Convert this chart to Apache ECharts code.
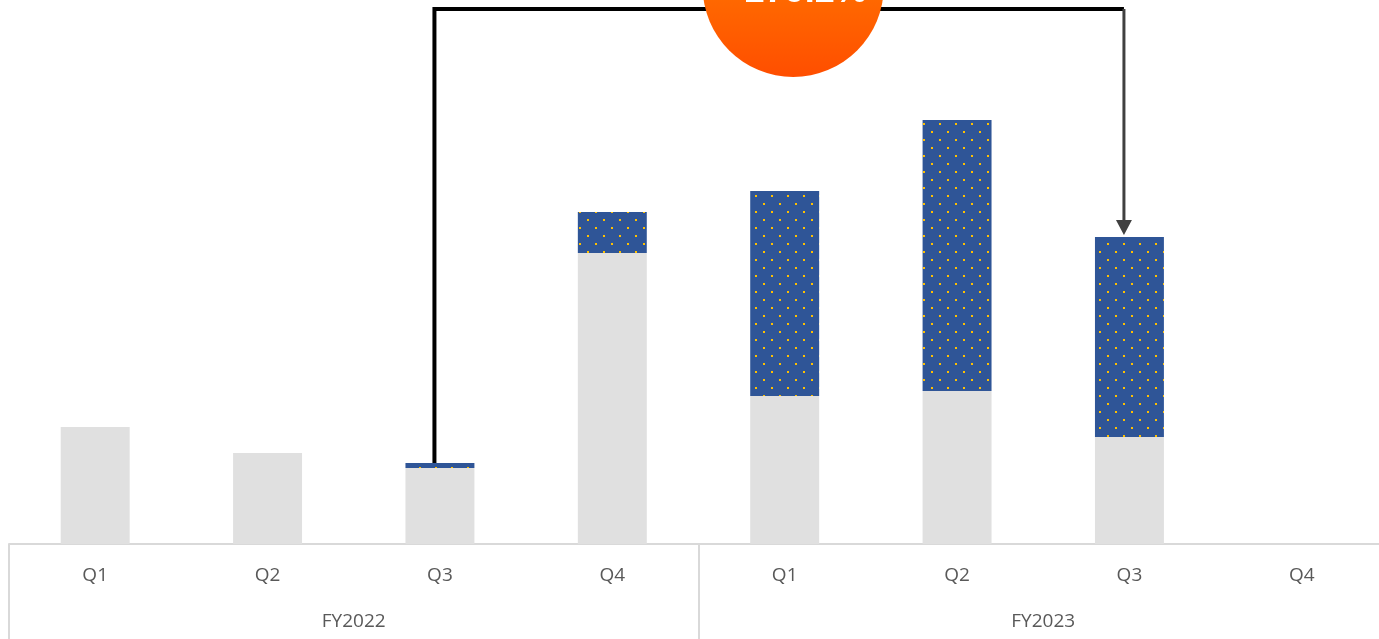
<!DOCTYPE html>
<html>
<head>
<meta charset="utf-8">
<script src="https://cdn.jsdelivr.net/npm/echarts@6/dist/echarts.min.js"></script>
<style>
html,body{margin:0;padding:0;background:#fff;overflow:hidden;width:1379px;height:639px;}
#chart{width:1388px;height:639px;}
</style>
</head>
<body>
<div id="chart"></div>
<script>
// ---- data ----
const quarters = ['Q1','Q2','Q3','Q4','Q1','Q2','Q3','Q4'];
const fiscalYears = ['FY2022','FY2023'];
const baseValues = [117, 91, 76, 291, 148, 153, 107, null];
const extraValues = [null, null, 5, 41, 205, 271, 200, null];
const growthLabel = '+279.2%';
const fromIndex = 2;   // Q3 FY2022
const toIndex = 6;     // Q3 FY2023

// dotted pattern for the upper segment
const pat = document.createElement('canvas');
pat.width = 16; pat.height = 16;
const pc = pat.getContext('2d');
pc.fillStyle = '#2F5597';
pc.fillRect(0,0,16,16);
pc.fillStyle = '#FFC000';
pc.fillRect(3,3,2,2);
pc.fillRect(11,11,2,2);

const chart = echarts.init(document.getElementById('chart'), null, {renderer:'canvas'});
const axisGray = '#D9D9D9';
const option = {
  animation: false,
  grid: {left: 9, right: 0, top: 0, bottom: 95, containLabel: false},
  xAxis: [
    {
      type: 'category', data: quarters, position: 'bottom',
      axisLine: {show: true, lineStyle: {color: axisGray, width: 2}},
      axisTick: {show: false},
      axisLabel: {color: '#595959', fontSize: 19, fontFamily: 'Open Sans', margin: 22}
    },
    {
      type: 'category', data: fiscalYears, position: 'bottom',
      axisLine: {show: false},
      axisTick: {show: true, length: 96, lineStyle: {color: axisGray, width: 2}},
      axisLabel: {color: '#595959', fontSize: 19, fontFamily: 'Open Sans', margin: 68}
    }
  ],
  yAxis: {type: 'value', min: 0, max: 544, show: false, splitLine: {show: false}},
  series: [
    {
      type: 'bar', stack: 'total', data: baseValues, barWidth: '40%', xAxisIndex: 0,
      itemStyle: {color: '#E0E0E0'}
    },
    {
      type: 'bar', stack: 'total', data: extraValues, barWidth: '40%', xAxisIndex: 0,
      itemStyle: {color: {image: pat, repeat: 'repeat'}}
    }
  ]
};
chart.setOption(option);

// annotation connector computed from the axes
const totals = baseValues.map((v,i)=>(v||0)+(extraValues[i]||0));
const p1 = chart.convertToPixel({xAxisIndex:0, yAxisIndex:0}, [fromIndex, totals[fromIndex]]);
const p2 = chart.convertToPixel({xAxisIndex:0, yAxisIndex:0}, [toIndex, totals[toIndex]]);
const shift = -5.5;
const x1 = p1[0] + shift, x2 = p2[0] + shift;
const topY = 9;
const cx = (x1 + x2) / 2 + 14;
chart.setOption({
  graphic: [
    {type:'polyline', shape:{points:[[x1, p1[1]], [x1, topY], [x2, topY]]},
     style:{stroke:'#000', lineWidth:4, fill:null}, z: 10},
    {type:'line', shape:{x1:x2, y1:topY, x2:x2, y2:p2[1]-15},
     style:{stroke:'#404040', lineWidth:3}, z: 10},
    {type:'polygon', shape:{points:[[x2-8, p2[1]-17],[x2+8, p2[1]-17],[x2, p2[1]-2]]},
     style:{fill:'#404040'}, z: 10},
    {type:'circle', shape:{cx: cx, cy: -13.5, r: 90.5},
     style:{fill:{type:'linear', x:0, y:0, x2:0, y2:1, colorStops:[{offset:0,color:'#FF8A00'},{offset:1,color:'#FF4E00'}]}}, z: 11},
    {type:'text', x: cx + 2, y: -8, z: 12,
     style:{text: growthLabel, fill:'#fff', font:'bold 36px "Liberation Sans"', textAlign:'center', textVerticalAlign:'middle'}}
  ]
});
</script>
</body>
</html>
